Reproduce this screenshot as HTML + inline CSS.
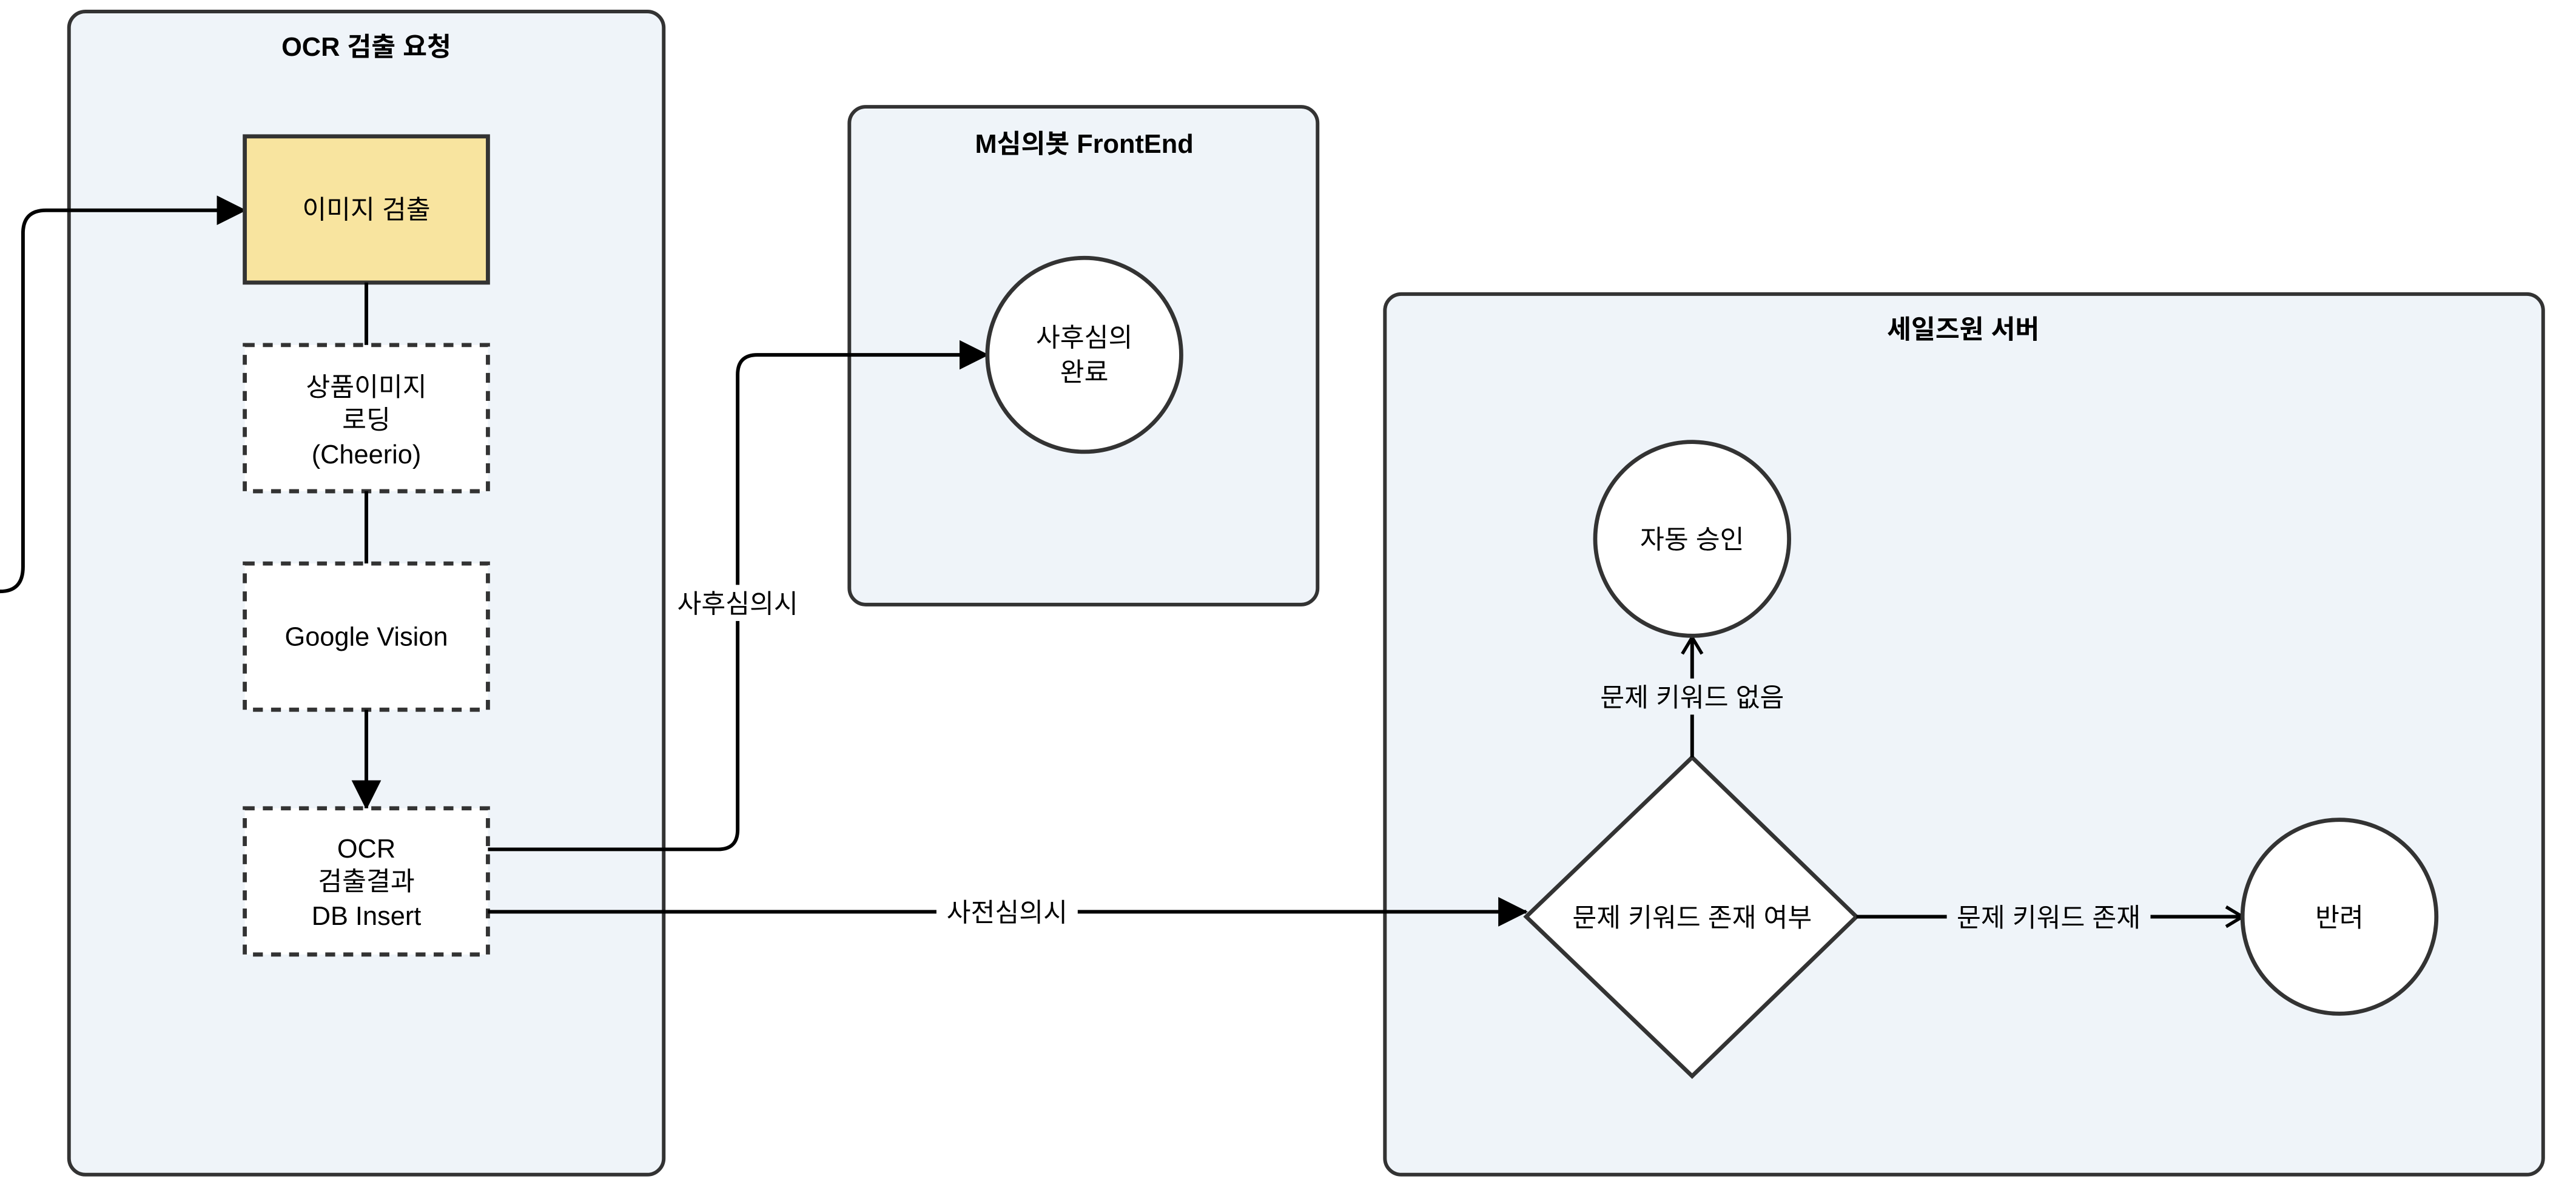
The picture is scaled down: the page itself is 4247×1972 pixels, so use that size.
<!DOCTYPE html>
<html><head><meta charset="utf-8"><style>
html,body{margin:0;padding:0;background:#fff;}
svg{display:block;}
text{font-family:"Liberation Sans","Noto Sans CJK KR",sans-serif;fill:#000;}
</style></head><body>
<svg width="4247" height="1972" viewBox="0 0 1568 728" preserveAspectRatio="none" xmlns="http://www.w3.org/2000/svg">
<defs>
<marker id="fa" markerWidth="10" markerHeight="10" refX="9" refY="5" orient="auto" markerUnits="userSpaceOnUse"><path d="M0,0 L18,5 L0,10 Z" transform="scale(0.5,1)"/></marker>
<marker id="big" viewBox="0 0 18 18" markerWidth="18" markerHeight="18" refX="17" refY="9" orient="auto" markerUnits="userSpaceOnUse"><path d="M0,0 L18,9 L0,18 Z" fill="#000"/></marker>
<marker id="open" viewBox="0 0 12 14" markerWidth="12" markerHeight="14" refX="11" refY="7" orient="auto" markerUnits="userSpaceOnUse"><path d="M1,1 L11,7 L1,13" fill="none" stroke="#000" stroke-width="2"/></marker>
</defs>
<!-- containers -->
<rect x="42" y="7" width="362" height="708" rx="10" fill="#eff4f9" stroke="#333" stroke-width="2.2"/>
<text x="223" y="34" font-size="16" font-weight="bold" text-anchor="middle">OCR 검출 요청</text>
<rect x="517" y="65" width="285" height="303" rx="10" fill="#eff4f9" stroke="#333" stroke-width="2.2"/>
<text x="660" y="93" font-size="16" font-weight="bold" text-anchor="middle">M심의봇 FrontEnd</text>
<rect x="843" y="179" width="705" height="536" rx="10" fill="#eff4f9" stroke="#333" stroke-width="2.2"/>
<text x="1195" y="206" font-size="16" font-weight="bold" text-anchor="middle">세일즈원 서버</text>

<!-- left input -->
<path d="M0,360 Q14,360 14,345 L14,142 Q14,128 28,128 L149,128" fill="none" stroke="#000" stroke-width="2.2" marker-end="url(#big)"/>

<!-- boxes -->
<rect x="149" y="83" width="148" height="89" fill="#f8e49f" stroke="#333" stroke-width="2.5"/>
<text x="223" y="133" font-size="16" text-anchor="middle">이미지 검출</text>
<line x1="223" y1="172" x2="223" y2="210" stroke="#000" stroke-width="2.2"/>
<rect x="149" y="210" width="148" height="89" fill="#fff" stroke="#333" stroke-width="2.5" stroke-dasharray="6,5"/>
<text x="223" y="241" font-size="16" text-anchor="middle">상품이미지</text>
<text x="223" y="261" font-size="16" text-anchor="middle">로딩</text>
<text x="223" y="282" font-size="16" text-anchor="middle">(Cheerio)</text>
<line x1="223" y1="299" x2="223" y2="343" stroke="#000" stroke-width="2.2"/>
<rect x="149" y="343" width="148" height="89" fill="#fff" stroke="#333" stroke-width="2.5" stroke-dasharray="6,5"/>
<text x="223" y="393" font-size="16" text-anchor="middle">Google Vision</text>
<line x1="223" y1="432" x2="223" y2="492" stroke="#000" stroke-width="2.2" marker-end="url(#big)"/>
<rect x="149" y="492" width="148" height="89" fill="#fff" stroke="#333" stroke-width="2.5" stroke-dasharray="6,5"/>
<text x="223" y="522" font-size="16" text-anchor="middle">OCR</text>
<text x="223" y="542" font-size="16" text-anchor="middle">검출결과</text>
<text x="223" y="563" font-size="16" text-anchor="middle">DB Insert</text>

<!-- post-review -->
<path d="M297,517 L437,517 Q449,517 449,505 L449,228 Q449,216 461,216 L601,216" fill="none" stroke="#000" stroke-width="2.2" marker-end="url(#big)"/>
<rect x="408" y="356" width="82" height="22" fill="#fff"/>
<text x="449" y="373" font-size="16" text-anchor="middle">사후심의시</text>
<circle cx="660" cy="216" r="59" fill="#fff" stroke="#333" stroke-width="2.5"/>
<text x="660" y="211" font-size="16" text-anchor="middle">사후심의</text>
<text x="660" y="232" font-size="16" text-anchor="middle">완료</text>

<!-- pre-review -->
<line x1="297" y1="555" x2="929" y2="555" stroke="#000" stroke-width="2.2" marker-end="url(#big)"/>
<rect x="570" y="544" width="86" height="22" fill="#fff"/>
<text x="613" y="561" font-size="16" text-anchor="middle">사전심의시</text>

<polygon points="1030,461 1130,558 1030,655 929,558" fill="#fff" stroke="#333" stroke-width="2.5"/>
<text x="1030" y="564" font-size="16" text-anchor="middle">문제 키워드 존재 여부</text>

<line x1="1030" y1="461" x2="1030" y2="388" stroke="#000" stroke-width="2.2" marker-end="url(#open)"/>
<rect x="968" y="413" width="124" height="22" fill="#eff4f9"/>
<text x="1030" y="430" font-size="16" text-anchor="middle">문제 키워드 없음</text>
<circle cx="1030" cy="328" r="59" fill="#fff" stroke="#333" stroke-width="2.5"/>
<text x="1030" y="334" font-size="16" text-anchor="middle">자동 승인</text>

<line x1="1130" y1="558" x2="1365" y2="558" stroke="#000" stroke-width="2.2" marker-end="url(#open)"/>
<rect x="1185" y="547" width="124" height="22" fill="#eff4f9"/>
<text x="1247" y="564" font-size="16" text-anchor="middle">문제 키워드 존재</text>
<circle cx="1424" cy="558" r="59" fill="#fff" stroke="#333" stroke-width="2.5"/>
<text x="1424" y="564" font-size="16" text-anchor="middle">반려</text>
</svg>
</body></html>
